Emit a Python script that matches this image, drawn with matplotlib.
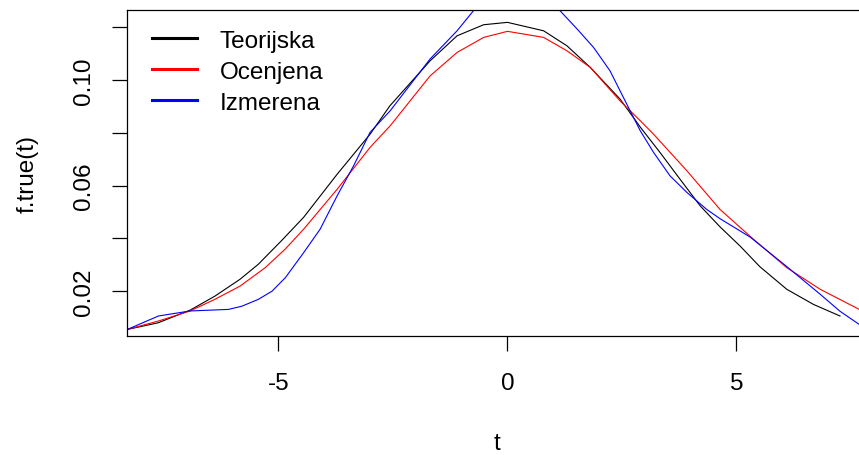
import matplotlib
matplotlib.use("Agg")
import matplotlib.pyplot as plt
from matplotlib.lines import Line2D

plt.rcParams['font.family'] = ['Liberation Sans', 'DejaVu Sans']

# Teorijska (black)
t_teor = [-8.30, -7.63, -6.93, -6.39, -5.84, -5.44, -4.93, -4.45, -3.72, -3.00,
          -2.57, -2.38, -1.69, -1.10, -0.52, 0.00, 0.79, 1.30, 1.81, 2.46,
          2.90, 3.33, 3.77, 4.21, 4.64, 5.08, 5.51, 6.10, 6.68, 7.26]
f_teor = [0.0055, 0.0080, 0.0128, 0.0181, 0.0245, 0.0302, 0.0392, 0.0480, 0.0643, 0.0795,
          0.0902, 0.0939, 0.1073, 0.1168, 0.1210, 0.1219, 0.1187, 0.1130, 0.1048, 0.0928,
          0.0822, 0.0726, 0.0624, 0.0523, 0.0444, 0.0371, 0.0293, 0.0207, 0.0150, 0.0106]

# Ocenjena (red)
t_ocen = [-8.30, -7.62, -6.93, -6.39, -5.84, -5.29, -4.85, -4.45, -3.72, -3.00,
          -2.56, -1.69, -1.10, -0.52, 0.00, 0.79, 1.30, 1.81, 2.46, 2.90,
          3.19, 3.92, 4.64, 5.37, 6.10, 6.83, 7.68, 7.85]
f_ocen = [0.0055, 0.0087, 0.0125, 0.0169, 0.0219, 0.0289, 0.0360, 0.0435, 0.0586, 0.0745,
          0.0827, 0.1016, 0.1105, 0.1162, 0.1185, 0.1162, 0.1111, 0.1048, 0.0921, 0.0846,
          0.0795, 0.0656, 0.0510, 0.0397, 0.0289, 0.0207, 0.0131, 0.0118]

# Izmerena (blue)
t_izm = [-8.30, -7.62, -6.93, -6.09, -5.80, -5.44, -5.14, -4.85, -4.45, -4.09,
         -3.72, -3.36, -3.00, -2.56, -1.69, -1.10, -0.71, -0.30, 0.20, 0.70,
         1.11, 1.52, 1.88, 2.24, 2.57, 2.90, 3.19, 3.55, 3.92, 4.35,
         4.64, 5.30, 6.10, 6.83, 7.26, 7.68, 7.85]
f_izm = [0.0055, 0.0106, 0.0125, 0.0131, 0.0143, 0.0169, 0.0200, 0.0251, 0.0346, 0.0435,
         0.0561, 0.0675, 0.0802, 0.0884, 0.1080, 0.1187, 0.1270, 0.1335, 0.1350, 0.1335,
         0.1270, 0.1194, 0.1124, 0.1035, 0.0921, 0.0808, 0.0726, 0.0637, 0.0574, 0.0510,
         0.0475, 0.0405, 0.0293, 0.0188, 0.0124, 0.0074, 0.0064]

labels = ['Teorijska', 'Ocenjena', 'Izmerena']
colors = ['black', '#FF0000', '#0000FF']

x_ticks = [-5, 0, 5]
y_ticks = [0.02, 0.04, 0.06, 0.08, 0.10, 0.12]
y_ticklabels = ['0.02', '', '0.06', '', '0.10', '']

fig = plt.figure(figsize=(8.59, 4.56), dpi=100)
ax = fig.add_axes([127.3 / 859, (456 - 337.3) / 456, (867 - 127.3) / 859, 326.6 / 456])

ax.plot(t_teor, f_teor, color=colors[0], lw=0.8)
ax.plot(t_ocen, f_ocen, color=colors[1], lw=0.8)
ax.plot(t_izm, f_izm, color=colors[2], lw=0.8)

ax.set_xlim(-8.30, 7.85)
ax.set_ylim(0.0029, 0.1267)

ax.set_xticks(x_ticks)
ax.set_xticklabels([str(v) for v in x_ticks])
ax.set_yticks(y_ticks)
ax.set_yticklabels(y_ticklabels, rotation=90, va='center')

ax.tick_params(axis='both', direction='out', length=10.8, width=0.9,
               labelsize=17.5, colors='black')
ax.tick_params(axis='x', pad=15)
ax.tick_params(axis='y', pad=12.5)
for s in ax.spines.values():
    s.set_linewidth(0.9)

ax.set_xlabel('t', fontsize=17.5, labelpad=27)
ax.set_ylabel('f.true(t)', fontsize=17.5, labelpad=25)

handles = [Line2D([0], [0], color=c, lw=2.2) for c in colors]
ax.legend(handles, labels, loc='upper left', bbox_to_anchor=(0.033, 0.938),
          frameon=False, fontsize=17.5, borderpad=0, borderaxespad=0,
          handlelength=1.85, handletextpad=0.95, labelspacing=0.37)

fig.savefig('out.png', dpi=100)
